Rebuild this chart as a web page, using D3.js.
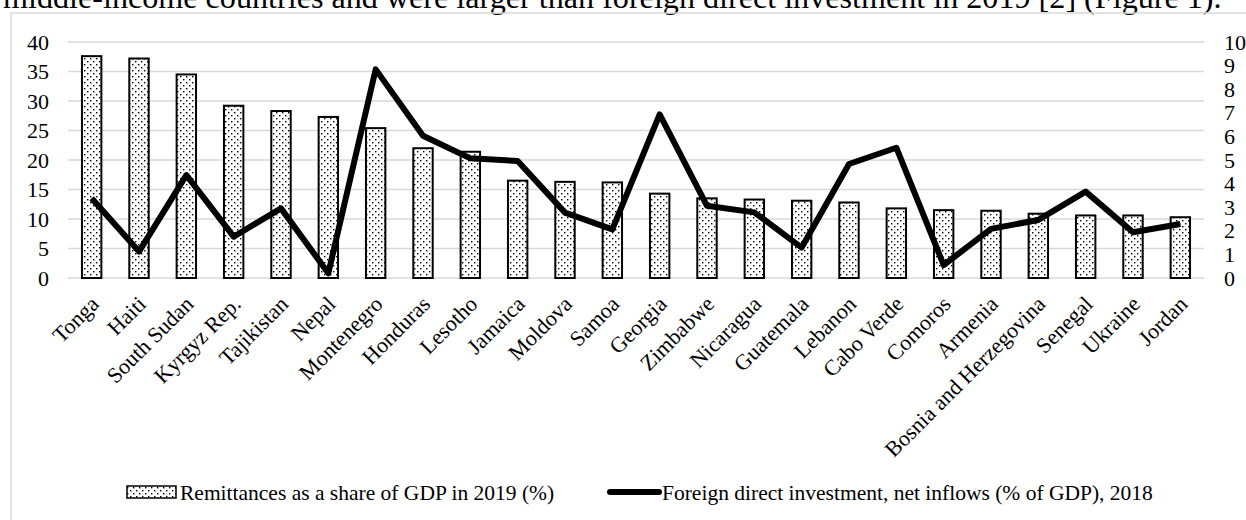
<!DOCTYPE html>
<html>
<head>
<meta charset="utf-8">
<script src="https://cdn.jsdelivr.net/npm/d3@7"></script>
<style>
body { margin:0; background:#fff; }
svg { display:block; font-family:"Liberation Serif","Times New Roman",serif; }
</style>
</head>
<body>
<svg class="chart" width="1246" height="520"></svg>
<script>
// DATA
var countries = ["Tonga","Haiti","South Sudan","Kyrgyz Rep.","Tajikistan","Nepal","Montenegro",
  "Honduras","Lesotho","Jamaica","Moldova","Samoa","Georgia","Zimbabwe","Nicaragua","Guatemala",
  "Lebanon","Cabo Verde","Comoros","Armenia","Bosnia and Herzegovina","Senegal","Ukraine","Jordan"];
// remittances as a share of GDP in 2019 (%), left axis
var remittances = [37.6,37.2,34.5,29.2,28.3,27.3,25.4,22.0,21.4,16.5,16.3,16.2,
  14.3,13.5,13.3,13.1,12.8,11.8,11.5,11.4,10.9,10.6,10.6,10.3];
// FDI net inflows (% of GDP) 2018, right axis
var fdi = [3.38,1.12,4.36,1.75,2.95,0.2,8.84,6.03,5.07,4.96,2.77,2.06,
  6.93,3.06,2.78,1.29,4.83,5.52,0.55,2.08,2.46,3.66,1.94,2.29];
var leftTicks = [0,5,10,15,20,25,30,35,40];
var rightTicks = [0,1,2,3,4,5,6,7,8,9,10];
var legendLabels = ["Remittances as a share of GDP in 2019 (%)",
  "Foreign direct investment, net inflows (% of GDP), 2018"];
var titleText = "middle-income countries and were larger than foreign direct investment in 2019 [2] (Figure 1).";

// geometry
var gwidth=1246, gheight=520;
var margin = {top: 42, right: 42, bottom: 242, left: 68},
    width = gwidth - margin.left - margin.right,
    height = gheight - margin.top - margin.bottom;
var gridColor = "#d9d9d9";
var fontSize = 22;
var legendFont = 21.5;

var svg = d3.select(".chart");

// dotted fill for the bars
var pat = svg.append("defs").append("pattern")
  .attr("id","dots")
  .attr("patternUnits","userSpaceOnUse")
  .attr("width",6).attr("height",6);
pat.append("rect").attr("width",6).attr("height",6).attr("fill","#fff");
pat.append("rect").attr("x",1).attr("y",1).attr("width",1.4).attr("height",1.4).attr("fill","#000");
pat.append("rect").attr("x",4).attr("y",4).attr("width",1.4).attr("height",1.4).attr("fill","#000");

// text line of the document above the figure
var title = svg.append("text")
  .attr("x",3).attr("y",8)
  .style("font-size","100px")
  .text(titleText);
var tlen = title.node().getComputedTextLength();
title.style("font-size", (100*1219/tlen)+"px");

// chart frame
svg.append("rect")
  .attr("x",11).attr("y",13)
  .attr("width",1400).attr("height",700)
  .attr("fill","none")
  .attr("stroke",gridColor)
  .attr("stroke-width",1.5);

var chart = svg.append("g")
  .attr("transform","translate("+margin.left+","+margin.top+")");

var x = d3.scaleBand()
  .domain(countries)
  .range([0,width])
  .paddingInner(0.59)
  .paddingOuter(0.295);
var yL = d3.scaleLinear().domain([0,40]).range([height,0]);
var yR = d3.scaleLinear().domain([0,10]).range([height,0]);

// gridlines
chart.append("g").selectAll("line").data(leftTicks).enter()
  .append("line")
  .attr("x1",0).attr("x2",width)
  .attr("y1",function(d){return yL(d);})
  .attr("y2",function(d){return yL(d);})
  .attr("stroke",gridColor)
  .attr("stroke-width",1.5);

// axes
var styleAxis = function(g){
  g.select(".domain").remove();
  g.selectAll("text")
    .attr("fill","#000")
    .style("font-family","Liberation Serif")
    .style("font-size",fontSize+"px");
};
chart.append("g")
  .call(d3.axisLeft(yL).tickValues(leftTicks).tickSize(0).tickPadding(19))
  .call(styleAxis);
chart.append("g")
  .attr("transform","translate("+width+",0)")
  .call(d3.axisRight(yR).tickValues(rightTicks).tickSize(0).tickPadding(20))
  .call(styleAxis);
var xg = chart.append("g")
  .attr("transform","translate(0,"+height+")")
  .call(d3.axisBottom(x).tickSize(0))
  .call(styleAxis);
xg.selectAll("text")
  .attr("y",0)
  .attr("dy","0.35em")
  .attr("text-anchor","end")
  .attr("transform","translate(3,22) rotate(-45)");

// bars
chart.append("g").selectAll("rect").data(remittances).enter()
  .append("rect")
  .attr("x",function(d,i){return x(countries[i]);})
  .attr("y",function(d){return yL(d);})
  .attr("width",x.bandwidth())
  .attr("height",function(d){return height-yL(d);})
  .attr("fill","url(#dots)")
  .attr("stroke","#000")
  .attr("stroke-width",2);

// fdi line
var line = d3.line()
  .x(function(d,i){return x(countries[i])+x.bandwidth()/2;})
  .y(function(d){return yR(d);});
chart.append("path")
  .datum(fdi)
  .attr("d",line)
  .attr("fill","none")
  .attr("stroke","#000")
  .attr("stroke-width",6)
  .attr("stroke-linejoin","round");

// legend
var leg = svg.append("g").attr("transform","translate(0,492)");
leg.append("rect")
  .attr("x",127).attr("y",-6)
  .attr("width",49).attr("height",12)
  .attr("fill","url(#dots)")
  .attr("stroke","#000")
  .attr("stroke-width",1.5);
leg.append("text")
  .attr("x",180).attr("dy","0.35em")
  .style("font-size",legendFont+"px")
  .text(legendLabels[0]);
leg.append("line")
  .attr("x1",610).attr("x2",659)
  .attr("stroke","#000")
  .attr("stroke-width",6)
  .attr("stroke-linecap","round");
leg.append("text")
  .attr("x",662).attr("dy","0.35em")
  .style("font-size",legendFont+"px")
  .text(legendLabels[1]);
</script>
</body>
</html>
